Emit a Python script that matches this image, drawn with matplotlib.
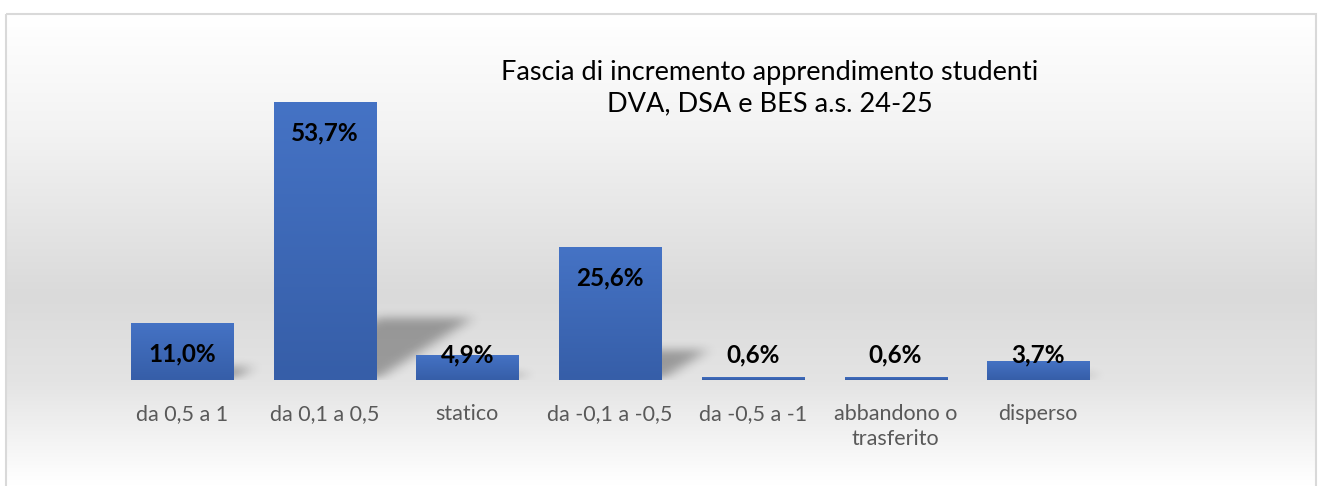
import numpy as np
import matplotlib
matplotlib.use("Agg")
import matplotlib.pyplot as plt
from matplotlib.patches import Rectangle
from matplotlib.path import Path

categories = ["da 0,5 a 1", "da 0,1 a 0,5", "statico", "da -0,1 a -0,5",
              "da -0,5 a -1", "abbandono o\ntrasferito", "disperso"]
values = [11.0, 53.7, 4.9, 25.6, 0.6, 0.6, 3.7]
value_labels = ["11,0%", "53,7%", "4,9%", "25,6%", "0,6%", "0,6%", "3,7%"]
title = "Fascia di incremento apprendimento studenti\nDVA, DSA e BES a.s. 24-25"

FONT = ["Lato", "DejaVu Sans"]
W, H = 1321, 486
fig = plt.figure(figsize=(W / 100, H / 100), dpi=100)

# background gradient inside frame
bg = fig.add_axes([0, 0, 1, 1], zorder=0)
bg.set_xlim(0, W); bg.set_ylim(H, 0); bg.axis("off")
ys = np.linspace(0, H, 400)
g = np.interp(ys, [0, 14, 120, 290, 380, 480, 486],
              [255, 254, 243, 218, 228, 254, 255]) / 255.0
img = np.repeat(g[:, None], 2, axis=1)
img = np.stack([img, img, img], axis=-1)
bg.imshow(img, extent=[6, 1316, H, 14], aspect="auto", interpolation="bilinear")
bg.add_patch(Rectangle((6, 14), 1310, 480, fill=False, edgecolor="#d9d9d9", lw=1.5))

# plot axes
ax = fig.add_axes([110.6 / W, 106 / H, 999 / W, 311 / H], zorder=1)
ax.patch.set_alpha(0)
n = len(values)
x = np.arange(n)
bw = 0.715
ax.set_xlim(-0.5, n - 0.5)
ax.set_ylim(0, 60)

# soft shadows: rasterize parallelograms and blur
NX, NY = 1000, 311
gx = np.linspace(-0.5, n - 0.5, NX)
gy = np.linspace(0, 60, NY)
GX, GY = np.meshgrid(gx, gy)
pts = np.column_stack([GX.ravel(), GY.ravel()])
mask = np.zeros(GX.size)
for xi, v in zip(x, values):
    dx = 0.0125 * v
    dy = 0.22 * v
    poly = [(xi - bw / 2 + 0.05, 0), (xi + bw / 2, 0),
            (xi + bw / 2 + dx, dy), (xi - bw / 2 + dx + 0.05, dy)]
    mask = np.maximum(mask, Path(poly).contains_points(pts).astype(float))
mask = mask.reshape(NY, NX)

def box_blur(a, r, axis):
    k = np.ones(2 * r + 1) / (2 * r + 1)
    return np.apply_along_axis(lambda m: np.convolve(m, k, mode="same"), axis, a)

for _ in range(3):
    mask = box_blur(mask, 6, 1)
    mask = box_blur(mask, 4, 0)
shadow = np.zeros((NY, NX, 4))
shadow[..., 3] = mask * 0.32
ax.imshow(shadow, extent=[-0.5, n - 0.5, 0, 60], origin="lower", aspect="auto",
          zorder=1, interpolation="bilinear")

# bars with vertical gradient
bars = ax.bar(x, values, width=bw, color="#4270c0", zorder=2)
grad = np.linspace(0, 1, 256)[:, None]
top_c = np.array([0x45, 0x73, 0xc5]) / 255
bot_c = np.array([0x36, 0x5e, 0xa8]) / 255
gimg = top_c[None, None, :] * (1 - grad[..., None]) + bot_c[None, None, :] * grad[..., None]
gimg = np.repeat(gimg, 2, axis=1)
for b in bars:
    bx, by = b.get_x(), b.get_y()
    w, h = b.get_width(), b.get_height()
    im = ax.imshow(gimg, extent=[bx, bx + w, by, by + h], aspect="auto",
                   origin="upper", zorder=3, interpolation="bilinear")
    im.set_clip_path(b)
ax.set_xlim(-0.5, n - 0.5)
ax.set_ylim(0, 60)

# data labels
for xi, v, lab in zip(x, values, value_labels):
    ly = max(v - 6.0, 4.8)
    ax.text(xi, ly, lab, ha="center", va="center", fontsize=17.5,
            fontweight="bold", color="black", family=FONT, zorder=5)

ax.set_xticks(x)
ax.set_xticklabels(categories, family=FONT, fontsize=15.5, color="#595959",
                   linespacing=1.35, va="top")
ax.tick_params(axis="x", length=0, pad=17)
ax.set_yticks([])
for sp in ax.spines.values():
    sp.set_visible(False)

fig.text(770 / W, 1 - 88 / H, title, ha="center", va="center", fontsize=19.5,
         color="black", family=FONT, linespacing=1.3)

fig.savefig("out.png", dpi=100)
